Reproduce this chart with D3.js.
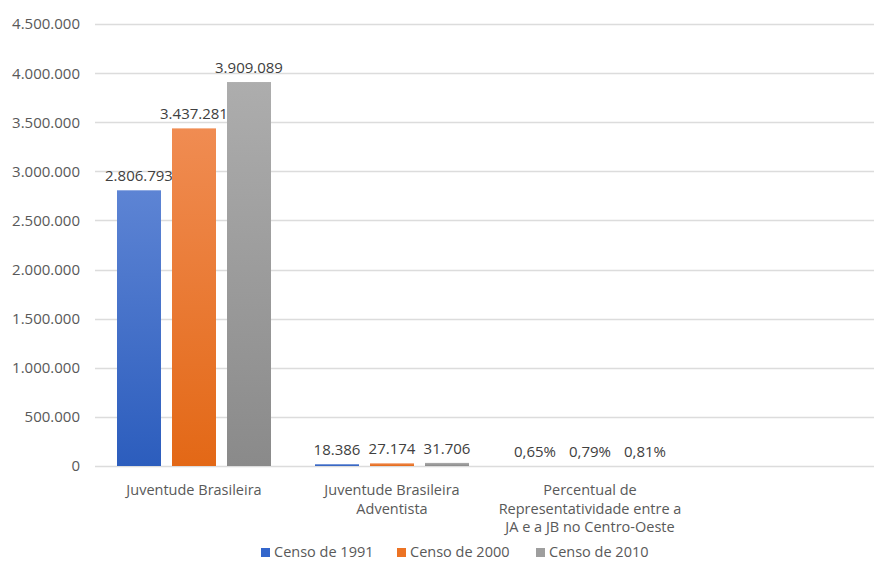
<!DOCTYPE html>
<html>
<head>
<meta charset="utf-8">
<script src="https://cdn.jsdelivr.net/npm/d3@7"></script>
<style>
  html, body { margin: 0; padding: 0; background: #fff; }
  svg { display: block; font-family: "Open Sans", sans-serif; }
</style>
</head>
<body>
<svg id="chart" width="874" height="562"></svg>
<script>
const categories = [
  ["Juventude Brasileira"],
  ["Juventude Brasileira", "Adventista"],
  ["Percentual de", "Representatividade entre a", "JA e a JB no Centro-Oeste"]
];
const seriesNames = ["Censo de 1991", "Censo de 2000", "Censo de 2010"];
const census1991 = [2806793, 18386, 0.65];
const census2000 = [3437281, 27174, 0.79];
const census2010 = [3909089, 31706, 0.81];
const valueLabels1991 = ["2.806.793", "18.386", "0,65%"];
const valueLabels2000 = ["3.437.281", "27.174", "0,79%"];
const valueLabels2010 = ["3.909.089", "31.706", "0,81%"];
const yTicks = [0, 500000, 1000000, 1500000, 2000000, 2500000, 3000000, 3500000, 4000000, 4500000];
const colors = [
  { top: "#5d84d4", bottom: "#2c5dbd", legend: "#3366cc" },
  { top: "#f08c52", bottom: "#e36816", legend: "#ec7324" },
  { top: "#adadad", bottom: "#8a8a8a", legend: "#9e9e9e" }
];

const series = [census1991, census2000, census2010];
const labels = [valueLabels1991, valueLabels2000, valueLabels2010];

const svg = d3.select("#chart");
const W = 874;
const mLeft = 95, mTop = 24, mBottom = 466;

const catIdx = categories.map((d, i) => i);
const x0 = d3.scaleBand().domain(catIdx).range([mLeft, mLeft + 198 * 3]).padding(0);
const x1 = d3.scaleBand().domain([0, 1, 2]).range([22, 176]).paddingInner(0.2).paddingOuter(0);
const y = d3.scaleLinear().domain([0, 4500000]).range([mBottom, mTop]);

const fmt = v => d3.format(",")(v).replace(/,/g, ".");

// gradients
const defs = svg.append("defs");
colors.forEach((c, i) => {
  const g = defs.append("linearGradient").attr("id", "g" + i)
    .attr("x1", 0).attr("y1", 0).attr("x2", 0).attr("y2", 1);
  g.append("stop").attr("offset", "0%").attr("stop-color", c.top);
  g.append("stop").attr("offset", "100%").attr("stop-color", c.bottom);
});

// gridlines
svg.append("g").selectAll("line").data(yTicks).join("line")
  .attr("x1", mLeft).attr("x2", W)
  .attr("y1", d => Math.round(y(d)) + 0.5).attr("y2", d => Math.round(y(d)) + 0.5)
  .attr("stroke", "#dcdcdc").attr("stroke-width", 1.3);

// y labels
svg.append("g").selectAll("text").data(yTicks).join("text")
  .attr("x", 80).attr("y", d => y(d)).attr("dy", "0.36em")
  .attr("text-anchor", "end").attr("fill", "#595959")
  .style("font-size", "15px")
  .text(d => fmt(d));

// bars
const groups = svg.append("g").selectAll("g").data(catIdx).join("g")
  .attr("transform", i => `translate(${x0(i)},0)`);

groups.each(function (ci) {
  const g = d3.select(this);
  series.forEach((s, si) => {
    const v = s[ci];
    const yy = y(v);
    g.append("rect")
      .attr("x", x1(si)).attr("width", x1.bandwidth())
      .attr("y", yy).attr("height", Math.max(0, mBottom - yy))
      .attr("fill", `url(#g${si})`);
    g.append("text")
      .attr("x", x1(si) + x1.bandwidth() / 2)
      .attr("y", yy - 9)
      .attr("text-anchor", "middle").attr("fill", "#404040")
      .style("font-size", "15px")
      .text(labels[si][ci]);
  });
});

// category labels
svg.append("g").selectAll("text").data(catIdx).join("text")
  .attr("x", i => x0(i) + x0.bandwidth() / 2)
  .attr("y", 495)
  .attr("text-anchor", "middle").attr("fill", "#595959")
  .style("font-size", "14.5px")
  .each(function (i) {
    const t = d3.select(this);
    categories[i].forEach((line, li) => {
      t.append("tspan").attr("x", x0(i) + x0.bandwidth() / 2)
        .attr("dy", li === 0 ? 0 : 18.5).text(line);
    });
  });

// legend
const legendX = [261, 397, 536];
const lg = svg.append("g").selectAll("g").data(seriesNames).join("g")
  .attr("transform", (d, i) => `translate(${legendX[i]},557)`);
lg.append("rect").attr("x", 0).attr("y", -9).attr("width", 9).attr("height", 9)
  .attr("fill", (d, i) => colors[i].legend);
lg.append("text").attr("x", 13).attr("y", 0).attr("fill", "#595959")
  .style("font-size", "14.5px").text(d => d);
</script>
</body>
</html>
